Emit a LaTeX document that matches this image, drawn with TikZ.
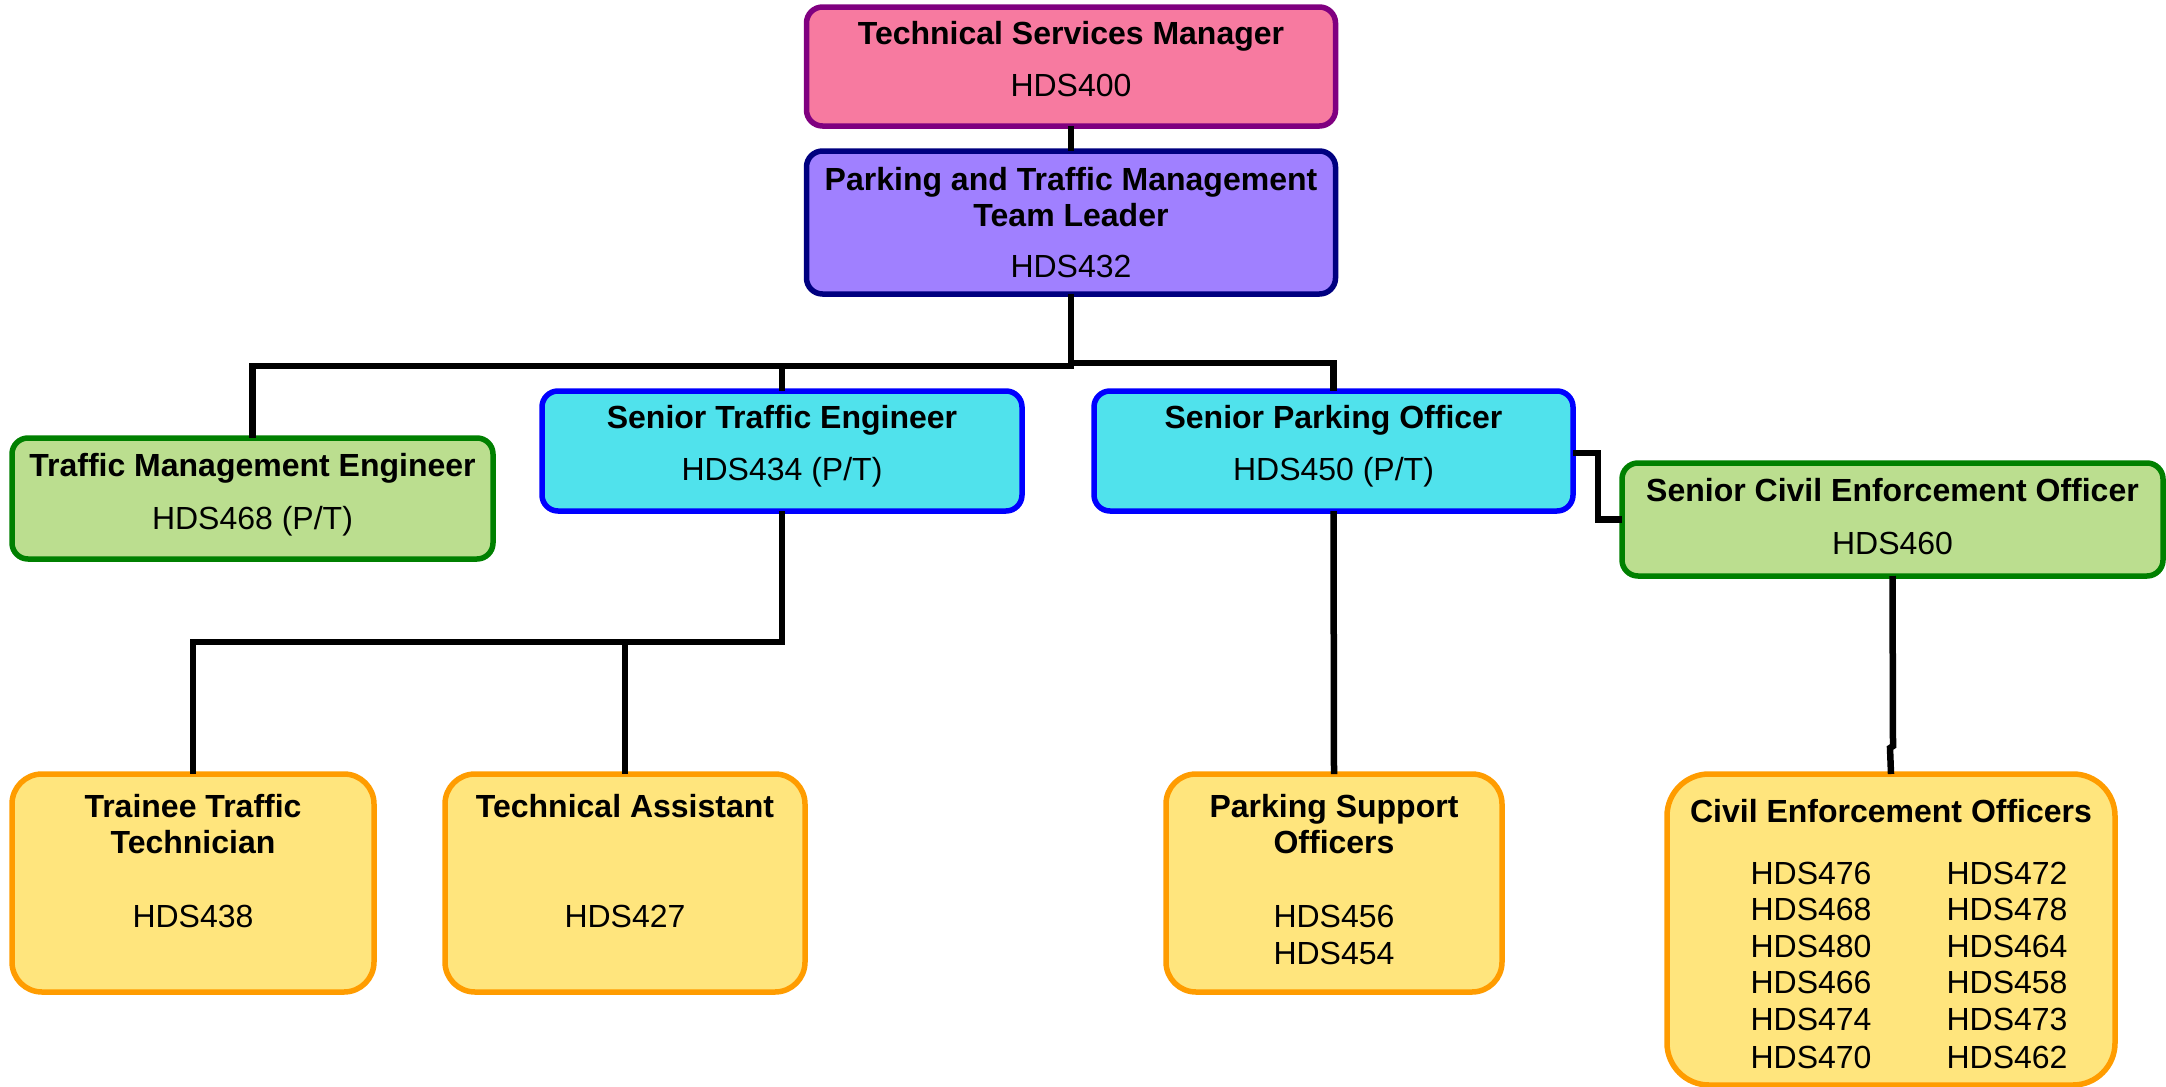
\documentclass[tikz,border=0pt]{standalone}
\usepackage{fontspec}
\setmainfont{Liberation Sans}
\definecolor{pinkfill}{HTML}{F77AA0}
\definecolor{pinkline}{HTML}{800080}
\definecolor{purpfill}{HTML}{A080FF}
\definecolor{purpline}{HTML}{000080}
\definecolor{greenfill}{HTML}{BBDE8F}
\definecolor{greenline}{HTML}{008000}
\definecolor{cyanfill}{HTML}{50E2EC}
\definecolor{cyanline}{HTML}{0000FF}
\definecolor{yelfill}{HTML}{FFE57D}
\definecolor{yelline}{HTML}{FF9C00}
\begin{document}
\begin{tikzpicture}[x=1pt,y=-1pt,
  box/.style={draw,line width=5.5pt,inner sep=0pt,outer sep=0pt,rounded corners=16pt},
  pinkbox/.style={box,fill=pinkfill,draw=pinkline},
  purpbox/.style={box,fill=purpfill,draw=purpline},
  greenbox/.style={box,fill=greenfill,draw=greenline},
  cyanbox/.style={box,fill=cyanfill,draw=cyanline},
  yelbox/.style={box,fill=yelfill,draw=yelline,rounded corners=30pt},
  lbl/.style={anchor=base,inner sep=0pt,font=\fontsize{32}{37}\selectfont},
  ttl/.style={lbl,font=\fontsize{32}{37}\selectfont\bfseries},
  conn/.style={line width=6.5pt,black}]
\useasboundingbox (0,0) rectangle (2166,1087);

% connectors (drawn first, boxes cover the ends)
\coordinate (jtop) at (1071,366);
\coordinate (jright) at (1071,363);
\coordinate (jste) at (782,642);
\coordinate (jog1) at (1893,746);
\coordinate (jog2) at (1890,748);

% boxes
\node[pinkbox,minimum width=529pt,minimum height=119pt] (tsm) at (1071,66.5) {};
\node[purpbox,minimum width=529pt,minimum height=143pt] (ptm) at (1071,222.5) {};
\node[greenbox,minimum width=481pt,minimum height=121pt] (tme) at (252.5,498.5) {};
\node[cyanbox,minimum width=480pt,minimum height=120pt] (ste) at (782,451) {};
\node[cyanbox,minimum width=479pt,minimum height=120pt] (spo) at (1333.5,451) {};
\node[greenbox,minimum width=541pt,minimum height=113pt] (sceo) at (1892.5,519.5) {};
\node[yelbox,minimum width=362pt,minimum height=218pt] (ttt) at (193,883) {};
\node[yelbox,minimum width=360pt,minimum height=218pt] (ta) at (625,883) {};
\node[yelbox,minimum width=336pt,minimum height=218pt] (pso) at (1334,883) {};
\node[yelbox,rounded corners=42pt,minimum width=448pt,minimum height=311pt] (ceo) at (1891,929.5) {};

\draw[conn] (tsm.south) -- (ptm.north);
\draw[conn] (ptm.south) -- (jtop) -| (tme.north);
\draw[conn] (jtop) -| (ste.north);
\draw[conn] (jright) -| (spo.north);
\draw[conn] ([yshift=-2pt]spo.east) -- ++(25,0) |- (sceo.west);
\draw[conn] (ste.south) -- (jste) -| (ttt.north);
\draw[conn] (jste) -| (ta.north);
\draw[conn] (spo.south) -- (pso.north);
\draw[conn] (sceo.south) -- (jog1) -- (jog2) -- (ceo.north);

% texts
\node[ttl] (tsm-t) at (1071,44) {Technical Services Manager};
\node[lbl] (tsm-c) at (1071,96.6) {HDS400};
\node[ttl] (ptm-t1) at (1071,190.6) {Parking and Traffic Management};
\node[ttl] (ptm-t2) at (1071,226.5) {Team Leader};
\node[lbl] (ptm-c) at (1071,277.6) {HDS432};
\node[ttl] (tme-t) at (252.5,476.5) {Traffic Management Engineer};
\node[lbl] (tme-c) at (252.5,529) {HDS468 (P/T)};
\node[ttl] (ste-t) at (782,428) {Senior Traffic Engineer};
\node[lbl] (ste-c) at (782,480.7) {HDS434 (P/T)};
\node[ttl] (spo-t) at (1333.5,428) {Senior Parking Officer};
\node[lbl] (spo-c) at (1333.5,480.7) {HDS450 (P/T)};
\node[ttl] (sceo-t) at (1892.5,501.4) {Senior Civil Enforcement Officer};
\node[lbl] (sceo-c) at (1892.5,554) {HDS460};
\node[ttl] (ttt-t1) at (193,817.7) {Trainee Traffic};
\node[ttl] (ttt-t2) at (193,853.7) {Technician};
\node[lbl] (ttt-c) at (193,927) {HDS438};
\node[ttl] (ta-t) at (625,817.7) {Technical Assistant};
\node[lbl] (ta-c) at (625,927) {HDS427};
\node[ttl] (pso-t1) at (1334,817.7) {Parking Support};
\node[ttl] (pso-t2) at (1334,853.7) {Officers};
\node[lbl] (pso-c1) at (1334,927) {HDS456};
\node[lbl] (pso-c2) at (1334,964) {HDS454};
\node[ttl] (ceo-t) at (1891,822) {Civil Enforcement Officers};
\foreach \y/\a/\b [count=\i] in {884/476/472,920/468/478,957/480/464,993/466/458,1030/474/473,1068/470/462}{
  \node[lbl] (ceo-l\i) at (1811,\y) {HDS\a};
  \node[lbl] (ceo-r\i) at (2007,\y) {HDS\b};
}
\end{tikzpicture}
\end{document}
